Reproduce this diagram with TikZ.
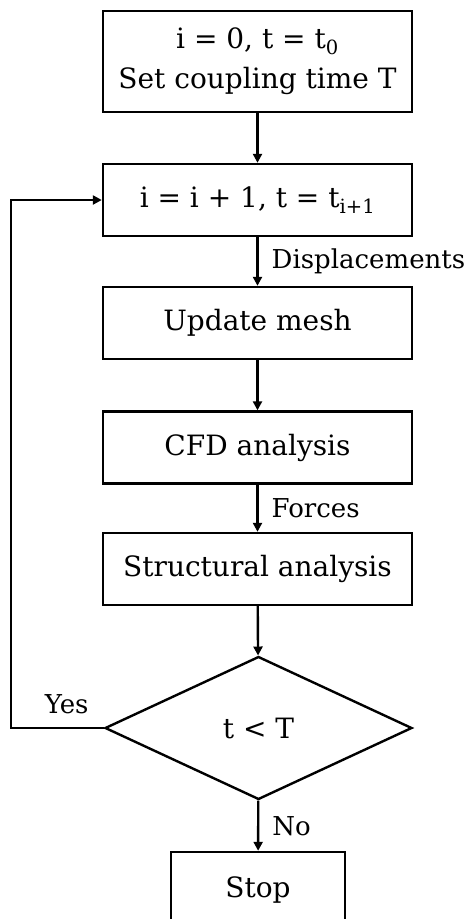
\documentclass[tikz,border=0pt]{standalone}
\usepackage{fontspec}
\setmainfont{DejaVu Serif}
\usetikzlibrary{shapes.geometric,arrows.meta}

\begin{document}
\begin{tikzpicture}
[x=1pt,y=-1pt,
  boxDecorate/.style={shape=rectangle,draw,line width=2.4pt,inner sep=0pt,
    minimum width=309pt,minimum height=72pt,align=center,
    font=\fontsize{28}{33}\selectfont},%
  decisionDecorate/.style={shape=diamond,draw,line width=2.4pt,inner sep=0pt,
    aspect=2.15,minimum width=307pt,minimum height=143pt,
    font=\fontsize{28}{33}\selectfont},%
  lineDecorate/.style={-{Triangle[length=9pt,width=9pt]},line width=2.4pt},%
  labelDecorate/.style={anchor=west,inner sep=0pt,xshift=13pt,
    font=\fontsize{26}{30}\selectfont}]
\useasboundingbox (0,0) rectangle (465,919);
%% boxes
\node (start) at (257.5,61.5) [boxDecorate,minimum height=101pt,
  font=\fontsize{28}{40}\selectfont]
  {i = 0, t = t\textsubscript{0}\\Set coupling time T};
\node (increment) at (257.5,200) [boxDecorate]
  {i = i + 1, t = t\textsubscript{i+1}};
\foreach \nodename/\y/\boxtext in {
  update/323/Update mesh, cfd/447.5/CFD analysis,
  structural/569/Structural analysis}
{
  \node (\nodename) at (257.5,\y) [boxDecorate] {\boxtext};
}
%% decision and end
\node (check) at (258.5,728) [decisionDecorate] {t < T};
\node (stop) at (258,890) [boxDecorate,minimum width=174pt,minimum height=76pt] {Stop};
\coordinate (corner) at (11,728);
%% connectors
\path
\foreach \startnode/\endnode in {start/increment, update/cfd, structural/check}
{
  (\startnode) edge[lineDecorate] (\endnode)
};
\draw[lineDecorate] (increment) -- node[labelDecorate] {Displacements} (update);
\draw[lineDecorate] (cfd) -- node[labelDecorate] {Forces} (structural);
\draw[lineDecorate] (check) -- node[labelDecorate] {No} (stop);
\draw[lineDecorate] (check.west) -- node[pos=0.4,above=13pt,inner sep=0pt,
  font=\fontsize{26}{30}\selectfont] {Yes} (corner) |- (increment.west);
\end{tikzpicture}
\end{document}
